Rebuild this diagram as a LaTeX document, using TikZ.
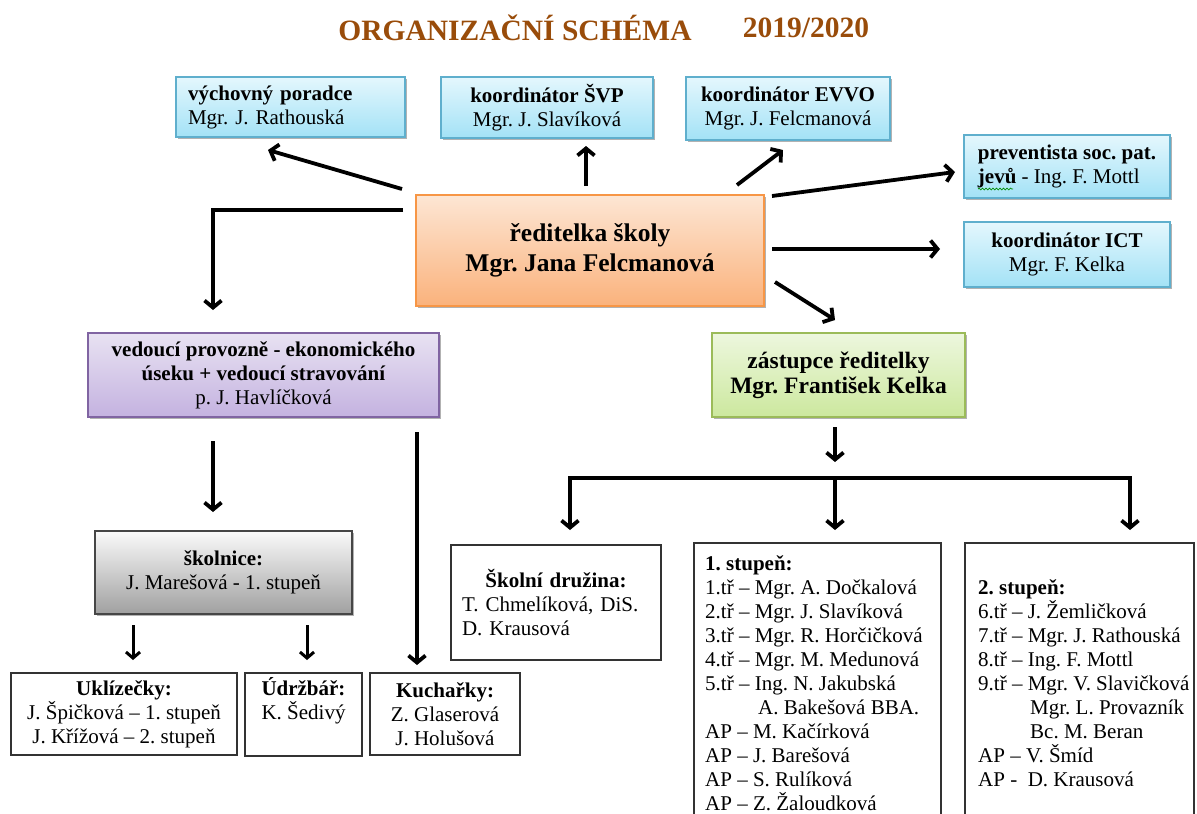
\documentclass[tikz,border=0pt]{standalone}
\usepackage{fontspec}
\setmainfont{Liberation Serif}
\usetikzlibrary{arrows.meta,shadows,decorations.pathmorphing}
\definecolor{titlec}{RGB}{153,76,10}
\definecolor{bluetop}{RGB}{228,247,253}
\definecolor{bluebot}{RGB}{163,226,246}
\definecolor{blueedge}{RGB}{95,175,205}
\definecolor{orgtop}{RGB}{253,230,212}
\definecolor{orgbot}{RGB}{250,178,124}
\definecolor{orgedge}{RGB}{247,150,70}
\definecolor{purtop}{RGB}{232,226,242}
\definecolor{purbot}{RGB}{196,178,224}
\definecolor{puredge}{RGB}{128,100,162}
\definecolor{grntop}{RGB}{237,247,222}
\definecolor{grnbot}{RGB}{204,232,158}
\definecolor{grnedge}{RGB}{155,187,89}
\definecolor{grytop}{RGB}{250,250,250}
\definecolor{grybot}{RGB}{160,160,160}
\definecolor{gryedge}{RGB}{70,70,70}
\newcommand\boxfont{\fontsize{21}{24}\selectfont}
\frenchspacing
\begin{document}
\begin{tikzpicture}[x=1pt,y=-1pt,
  box/.style={rectangle, inner sep=0pt, font=\boxfont, align=center},
  shad/.style={drop shadow={shadow xshift=2pt,shadow yshift=-2pt,opacity=0.3,fill=black}},
  bluebox/.style={box, shad, draw=blueedge, line width=1.2pt, top color=bluetop, bottom color=bluebot},
  orgbox/.style={box, shad, draw=orgedge, line width=1.2pt, top color=orgtop, bottom color=orgbot},
  purbox/.style={box, shad, draw=puredge, line width=1.2pt, top color=purtop, bottom color=purbot},
  grnbox/.style={box, shad, draw=grnedge, line width=1.2pt, top color=grntop, bottom color=grnbot},
  grybox/.style={box, shad, draw=gryedge, line width=1.2pt, top color=grytop, bottom color=grybot},
  whitebox/.style={box, draw=black!80, line width=1.3pt, fill=white},
  listtext/.style={inner sep=0pt, font=\boxfont, align=left, anchor=north west},
  arr/.style={line width=3.8pt, -{Straight Barb[length=7pt,width=17pt]}},
  sarr/.style={line width=3pt, -{Straight Barb[length=6pt,width=14pt]}}
]
\useasboundingbox (0,0) rectangle (1197,814);

% title
\node[font=\fontsize{29.5}{32}\selectfont\bfseries, text=titlec] (title) at (515,28) {ORGANIZAČNÍ SCHÉMA};
\node[font=\fontsize{29.5}{32}\selectfont\bfseries, text=titlec] (year) at (806,28) {2019/2020};

% top boxes
\node[bluebox, minimum width=229pt, minimum height=60pt, text width=205pt, align=left] (vych) at (290.5,107)
  {\textbf{výchovný poradce}\\Mgr. J. Rathouská};
\node[bluebox, minimum width=212pt, minimum height=61pt] (svp) at (547,107.5)
  {\textbf{koordinátor ŠVP}\\Mgr. J. Slavíková};
\node[bluebox, minimum width=204pt, minimum height=63pt] (evvo) at (788,108.5)
  {\textbf{koordinátor EVVO}\\Mgr. J. Felcmanová};
\node[bluebox, minimum width=206pt, minimum height=63pt, align=left] (prev) at (1067,166.5)
  {\textbf{preventista soc. pat.}\\\textbf{jevů} - Ing. F. Mottl};
\node[bluebox, minimum width=206pt, minimum height=65pt] (ict) at (1067,254.5)
  {\textbf{koordinátor ICT}\\Mgr. F. Kelka};

% director
\node[orgbox, minimum width=348pt, minimum height=111pt, font=\fontsize{25.5}{30}\selectfont\bfseries] (red) at (590,250.5)
  {ředitelka školy\\Mgr. Jana Felcmanová};

% second level
\node[purbox, minimum width=351pt, minimum height=84pt] (ved) at (263.5,375)
  {\textbf{vedoucí provozně - ekonomického}\\\textbf{úseku + vedoucí stravování}\\p. J. Havlíčková};
\node[grnbox, minimum width=253pt, minimum height=84pt, font=\fontsize{23.5}{25}\selectfont\bfseries] (zas) at (838.5,375)
  {zástupce ředitelky\\Mgr. František Kelka};

% left branch
\node[grybox, minimum width=257pt, minimum height=83pt] (skol) at (223.5,572.5)
  {\textbf{školnice:}\\J. Marešová - 1. stupeň};
\node[whitebox, minimum width=226pt, minimum height=82pt] (ukl) at (124,714)
  {\textbf{Uklízečky:}\\J. Špičková – 1. stupeň\\J. Křížová – 2. stupeň};
\node[whitebox, minimum width=117pt, minimum height=83pt] (udr) at (303.5,714.5)
  {\textbf{Údržbář:}\\K. Šedivý\\\strut};
\node[whitebox, minimum width=150pt, minimum height=82pt] (kuch) at (445,714)
  {\textbf{Kuchařky:}\\Z. Glaserová\\J. Holušová};

% right branch
\node[whitebox, minimum width=210pt, minimum height=115pt, text width=188pt, align=left] (druz) at (556,602.5)
  {\hfill\textbf{Školní družina:}\hfill\mbox{}\\T. Chmelíková, DiS.\\D. Krausová};
\node[whitebox, minimum width=247pt, minimum height=300pt] (st1) at (817.5,693) {};
\node[listtext] (st1t) at (705,555)
  {\textbf{1. stupeň:}\\
   1.tř – Mgr. A. Dočkalová\\
   2.tř – Mgr. J. Slavíková\\
   3.tř – Mgr. R. Horčičková\\
   4.tř – Mgr. M. Medunová\\
   5.tř – Ing. N. Jakubská\\
   \hspace*{53pt}A. Bakešová BBA.\\
   AP – M. Kačírková\\
   AP – J. Barešová\\
   AP – S. Rulíková\\
   AP – Z. Žaloudková};
\node[whitebox, minimum width=229pt, minimum height=300pt] (st2) at (1079.5,693) {};
\node[listtext] (st2t) at (978,579)
  {\textbf{2. stupeň:}\\
   6.tř – J. Žemličková\\
   7.tř – Mgr. J. Rathouská\\
   8.tř – Ing. F. Mottl\\
   9.tř – Mgr. V. Slavičková\\
   \hspace*{52pt}Mgr. L. Provazník\\
   \hspace*{52pt}Bc. M. Beran\\
   AP – V. Šmíd\\
   AP -\ \ D. Krausová};

% connector points
\coordinate (c1s) at (402,189); \coordinate (c1e) at (268,150);
\coordinate (c2s) at (586,186); \coordinate (c2e) at (586,146);
\coordinate (c3s) at (737,185); \coordinate (c3e) at (783,150);
\coordinate (c4s) at (772,196); \coordinate (c4e) at (955,172);
\coordinate (c5s) at (772,249); \coordinate (c5e) at (940,249);
\coordinate (c6s) at (775,282); \coordinate (c6e) at (835,320);
\coordinate (c7s) at (403,210); \coordinate (c7e) at (213,310);
\coordinate (c8s) at (213,441); \coordinate (c8e) at (213,512);
\coordinate (c9s) at (417,432); \coordinate (c9e) at (417,665);
\coordinate (c10s) at (133,625); \coordinate (c10e) at (133,660);
\coordinate (c11s) at (307,625); \coordinate (c11e) at (307,660);
\coordinate (c12s) at (835,427); \coordinate (c12e) at (835,462);
\coordinate (busl) at (570,478); \coordinate (busm) at (835,478); \coordinate (busr) at (1130,478);
\coordinate (bl) at (570,530); \coordinate (bm) at (835,530); \coordinate (br) at (1130,530);
\coordinate (ul1) at (978,189); \coordinate (ul2) at (1013,189);

% spell-check underline under "jevu"
\draw[green!55!black, line width=0.7pt, decorate, decoration={snake, amplitude=0.9pt, segment length=3.5pt}] (ul1) -- (ul2);

\draw[arr] (c1s) -- (c1e);
\draw[arr] (c2s) -- (c2e);
\draw[arr] (c3s) -- (c3e);
\draw[arr] (c4s) -- (c4e);
\draw[arr] (c5s) -- (c5e);
\draw[arr] (c6s) -- (c6e);
\draw[arr] (c7s) -| (c7e);
\draw[arr] (c8s) -- (c8e);
\draw[arr] (c9s) -- (c9e);
\draw[sarr] (c10s) -- (c10e);
\draw[sarr] (c11s) -- (c11e);
\draw[arr] (c12s) -- (c12e);
\draw[arr, {Straight Barb[length=7pt,width=17pt]}-{Straight Barb[length=7pt,width=17pt]}] (bl) -- (busl) -- (busr) -- (br);
\draw[arr] (busm) -- (bm);
\end{tikzpicture}
\end{document}
